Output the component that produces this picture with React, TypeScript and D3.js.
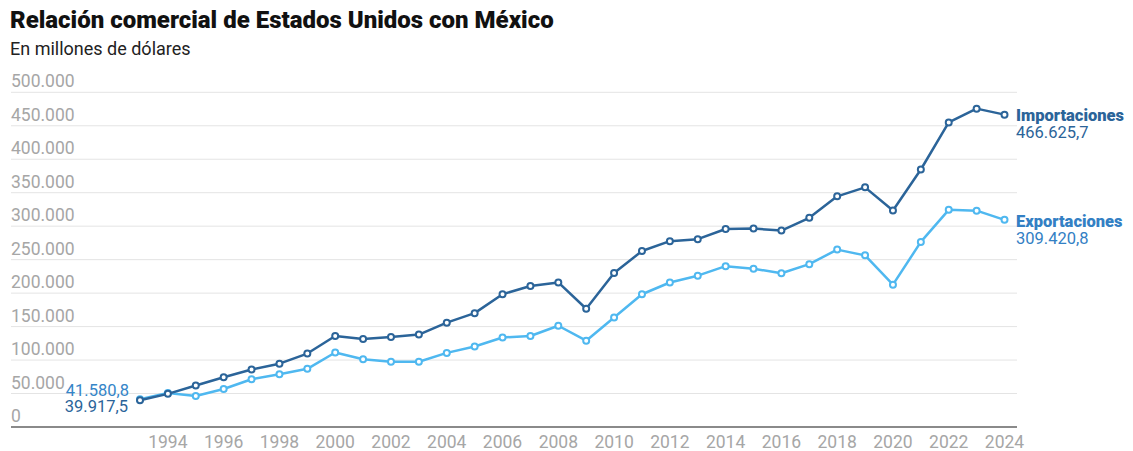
import { useEffect, useRef } from "react";
import * as d3 from "d3";

// Años y valores (millones de dólares)
const years: number[] = [
  1993, 1994, 1995, 1996, 1997, 1998, 1999, 2000, 2001, 2002, 2003, 2004, 2005, 2006, 2007, 2008,
  2009, 2010, 2011, 2012, 2013, 2014, 2015, 2016, 2017, 2018, 2019, 2020, 2021, 2022, 2023, 2024,
];

const importaciones: number[] = [
  39917.5, 49493.7, 62100.4, 74297.2, 85937.5, 94629.0, 109720.6, 135926.4, 131337.9, 134616.0,
  138060.0, 155901.5, 170108.6, 198253.2, 210714.0, 215941.6, 176654.4, 229985.6, 262873.6,
  277593.5, 280555.2, 295730.3, 296408.1, 293503.6, 312569.5, 344561.7, 357986.0, 323520.5,
  384669.0, 454930.0, 475608.0, 466625.7,
];

const exportaciones: number[] = [
  41580.8, 50843.5, 46292.1, 56791.5, 71388.4, 78772.5, 86908.9, 111349.0, 101296.5, 97470.1,
  97411.8, 110731.3, 120247.6, 133721.7, 135918.0, 151220.0, 128892.0, 163664.6, 198289.0,
  215875.0, 226079.0, 240248.0, 236460.0, 229701.0, 243314.0, 265010.0, 256400.0, 212620.0,
  276490.0, 324379.0, 323200.0, 309420.8,
];

const yTicks: number[] = [0, 50000, 100000, 150000, 200000, 250000, 300000, 350000, 400000, 450000, 500000];
const xTicks: number[] = [1994, 1996, 1998, 2000, 2002, 2004, 2006, 2008, 2010, 2012, 2014, 2016, 2018, 2020, 2022, 2024];

const fmt = (v: number, dec: boolean) => {
  const parts = (dec ? v.toFixed(1) : Math.round(v).toString()).split(".");
  const int = parts[0].replace(/\B(?=(\d{3})+(?!\d))/g, ".");
  return parts.length > 1 ? `${int},${parts[1]}` : int;
};

export default function App() {
  const svgRef = useRef<SVGSVGElement | null>(null);

  useEffect(() => {
    if (!svgRef.current) return;
    const width = 1133;
    const height = 451;
    const font = "Roboto, 'Liberation Sans', sans-serif";
    const darkBlue = "#2b6499";
    const lightBlue = "#4fb8f0";

    const svg = d3.select(svgRef.current).attr("width", width).attr("height", height);
    svg.selectAll("*").remove();

    const x = d3.scaleLinear().domain([1993, 2024]).range([140, 1004.5]);
    const y = d3.scaleLinear().domain([0, 500000]).range([427, 92.3]);

    // Título
    svg
      .append("text")
      .attr("x", 10)
      .attr("y", 28)
      .attr("font-family", font)
      .attr("font-weight", 900)
      .attr("font-size", 24)
      .attr("fill", "#111")
      .text("Relación comercial de Estados Unidos con México");

    svg
      .append("text")
      .attr("x", 10)
      .attr("y", 55)
      .attr("font-family", font)
      .attr("font-size", 18)
      .attr("fill", "#222")
      .text("En millones de dólares");

    // Rejilla y etiquetas del eje Y
    const grid = svg.append("g");
    grid
      .selectAll("line")
      .data(yTicks.filter((d) => d > 0))
      .join("line")
      .attr("x1", 11)
      .attr("x2", 1017)
      .attr("y1", (d) => y(d))
      .attr("y2", (d) => y(d))
      .attr("stroke", "#e4e4e4")
      .attr("stroke-width", 1);

    grid
      .selectAll("text")
      .data(yTicks)
      .join("text")
      .attr("x", 11)
      .attr("y", (d) => y(d) - 5)
      .attr("font-family", font)
      .attr("font-size", 17.5)
      .attr("fill", "#a6a6a6")
      .text((d) => fmt(d, false));

    // Eje X
    svg
      .append("line")
      .attr("x1", 11)
      .attr("x2", 1017)
      .attr("y1", y(0))
      .attr("y2", y(0))
      .attr("stroke", "#8a8a8a")
      .attr("stroke-width", 2);

    svg
      .append("g")
      .selectAll("text")
      .data(xTicks)
      .join("text")
      .attr("x", (d) => x(d))
      .attr("y", 448)
      .attr("text-anchor", "middle")
      .attr("font-family", font)
      .attr("font-size", 17.5)
      .attr("fill", "#a6a6a6")
      .text((d) => String(d));

    const series = [
      { values: exportaciones, color: lightBlue },
      { values: importaciones, color: darkBlue },
    ];

    const line = d3
      .line<number>()
      .x((_, i) => x(years[i]))
      .y((d) => y(d));

    series.forEach((s) => {
      svg
        .append("path")
        .datum(s.values)
        .attr("fill", "none")
        .attr("stroke", s.color)
        .attr("stroke-width", 2.5)
        .attr("stroke-linejoin", "round")
        .attr("d", line);

      svg
        .append("g")
        .selectAll("circle")
        .data(s.values)
        .join("circle")
        .attr("cx", (_, i) => x(years[i]))
        .attr("cy", (d) => y(d))
        .attr("r", 3)
        .attr("fill", "#fff")
        .attr("stroke", s.color)
        .attr("stroke-width", 2);
    });

    // Etiquetas iniciales
    svg
      .append("text")
      .attr("x", 129)
      .attr("y", 396)
      .attr("text-anchor", "end")
      .attr("font-family", font)
      .attr("font-size", 16.5)
      .attr("fill", "#3585c8")
      .text(fmt(exportaciones[0], true));
    svg
      .append("text")
      .attr("x", 128)
      .attr("y", 412)
      .attr("text-anchor", "end")
      .attr("font-family", font)
      .attr("font-size", 16.5)
      .attr("fill", darkBlue)
      .text(fmt(importaciones[0], true));

    // Etiquetas finales
    const endLabels = [
      { name: "Importaciones", value: importaciones[importaciones.length - 1], y: 121, color: darkBlue },
      { name: "Exportaciones", value: exportaciones[exportaciones.length - 1], y: 227, color: "#3380c4" },
    ];
    endLabels.forEach((l) => {
      svg
        .append("text")
        .attr("x", 1016)
        .attr("y", l.y)
        .attr("font-family", font)
        .attr("font-weight", 900)
        .attr("font-size", 16.5)
        .attr("fill", l.color)
        .text(l.name);
      svg
        .append("text")
        .attr("x", 1016)
        .attr("y", l.y + 17)
        .attr("font-family", font)
        .attr("font-size", 16.5)
        .attr("fill", l.color)
        .text(fmt(l.value, true));
    });
  }, []);

  return (
    <div style={{ position: "absolute", left: 0, top: 0 }}>
      <svg ref={svgRef} style={{ display: "block" }}></svg>
    </div>
  );
}
